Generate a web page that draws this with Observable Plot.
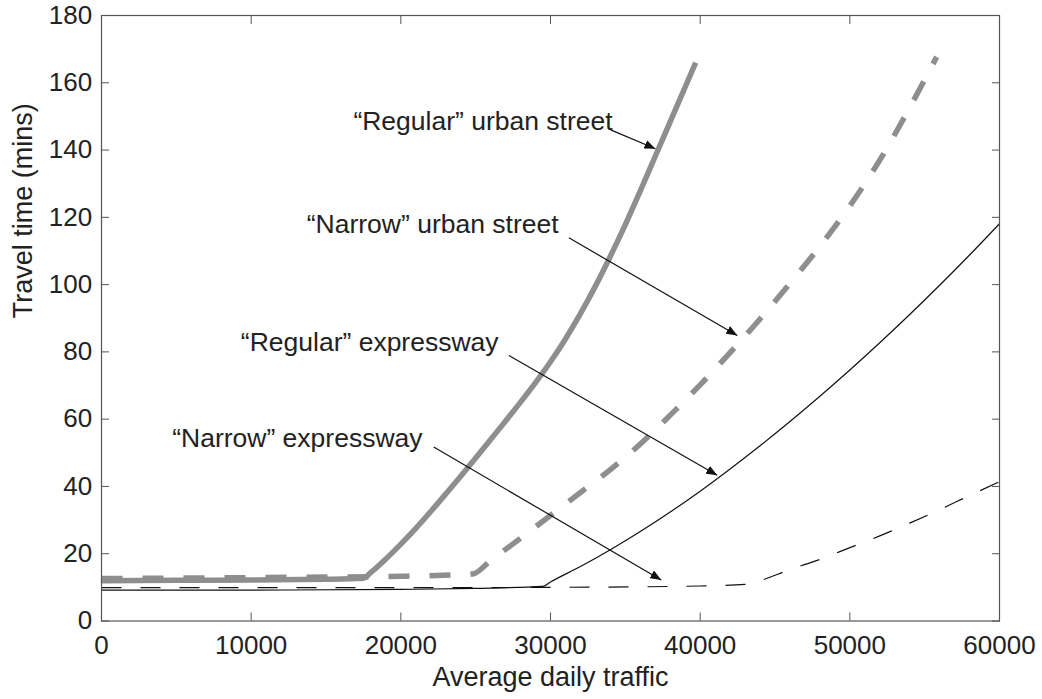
<!DOCTYPE html>
<html>
<head>
<meta charset="utf-8">
<script src="https://cdn.jsdelivr.net/npm/d3@7"></script>
<script src="https://cdn.jsdelivr.net/npm/@observablehq/plot@0.6"></script>
<style>
  html, body { margin: 0; padding: 0; background: #fff; }
  #chart { width: 1042px; height: 699px; }
</style>
</head>
<body>
<div id="chart"></div>
<script>
// ---- Axis ticks ----
const xTicks = [0, 10000, 20000, 30000, 40000, 50000, 60000];
const yTicks = [0, 20, 40, 60, 80, 100, 120, 140, 160, 180];

// ---- Series (x = average daily traffic, y = travel time in mins) ----
const regularUrbanStreet = [
  [0, 12.0], [5000, 12.1], [10000, 12.2], [15000, 12.4], [17500, 12.7],
  [18000, 14.45], [19000, 18.45], [20000, 22.85], [21000, 27.55], [22000, 32.55],
  [23000, 37.75], [24000, 43.05], [25000, 48.45], [26000, 53.95], [27000, 59.45],
  [28000, 65.05], [29000, 70.85], [30000, 77.05], [31000, 83.85], [32000, 91.35],
  [33000, 99.55], [34000, 108.45], [35000, 117.85], [36000, 127.85], [37000, 138.15],
  [38000, 148.45], [39000, 158.75], [39700, 166.0]
];
const narrowUrbanStreet = [
  [0, 12.6], [10000, 12.9], [20000, 13.3], [24800, 14.0], [26000, 18.0],
  [28000, 24.6], [30000, 31.4], [32000, 38.2], [34000, 45.0], [36000, 52.6],
  [38000, 61.2], [40000, 70.2], [42000, 79.8], [44000, 89.8], [46000, 100.4],
  [48000, 111.4], [50000, 123.4], [52000, 137.0], [54000, 152.6], [55800, 167.7]
];
const regularExpressway = [
  [0, 9.2], [10000, 9.2], [20000, 9.4], [25000, 9.7], [29500, 10.3],
  [30000, 11.6], [32000, 16.2], [34000, 21.2], [36000, 26.6], [38000, 32.4],
  [40000, 38.6], [42000, 45.2], [44000, 52.1], [46000, 59.3], [48000, 66.8],
  [50000, 74.6], [52000, 82.7], [54000, 91.1], [56000, 99.8], [58000, 108.8],
  [60000, 118.1]
];
const narrowExpressway = [
  [0, 9.9], [10000, 9.9], [20000, 9.9], [30000, 10.0], [40000, 10.4],
  [43000, 10.9], [44000, 12.0], [46000, 15.3], [48000, 18.3], [50000, 21.8],
  [52000, 25.3], [54000, 29.1], [56000, 33.1], [58000, 37.3], [60000, 41.4]
];

// ---- Annotations (label anchored at its right end / baseline, arrow from start to tip) ----
const labelText = ["\u201CRegular\u201D urban street", "\u201CNarrow\u201D urban street", "\u201CRegular\u201D expressway", "\u201CNarrow\u201D expressway"];
const labelX = [34150, 30540, 26530, 21450];
const labelY = [146.1, 115.2, 80.4, 51.6];
const arrowX1 = [34020, 31230, 27220, 22200];
const arrowY1 = [146.0, 113.9, 78.9, 51.7];
const arrowX2 = [37010, 42480, 41140, 37400];
const arrowY2 = [140.4, 84.9, 43.3, 12.2];

const annotations = labelText.map((t, i) => ({
  text: t, x: labelX[i], y: labelY[i],
  x1: arrowX1[i], y1: arrowY1[i], x2: arrowX2[i], y2: arrowY2[i]
}));

const FONT = "'Liberation Sans', Arial, Helvetica, sans-serif";
const gray = "#8e8e8e";
const axisGray = "#555";
const textColor = "#222";

function filledArrow(color) {
  const m = d3.create("svg:marker")
    .attr("viewBox", "-11 -4.5 11 9")
    .attr("markerWidth", 11)
    .attr("markerHeight", 9)
    .attr("markerUnits", "userSpaceOnUse")
    .attr("orient", "auto")
    .attr("refX", 0)
    .attr("refY", 0)
    .attr("fill", color)
    .attr("stroke", "none");
  m.append("path").attr("d", "M-11,-4.5L0,0L-11,4.5Z");
  return m.node();
}

function build(marker) {
  return Plot.plot({
    width: 1042,
    height: 699,
    marginLeft: 101,
    marginRight: 43,
    marginTop: 15,
    marginBottom: 78.5,
    style: { fontFamily: FONT, background: "#fff", color: textColor },
    x: { domain: [0, 60000] },
    y: { domain: [0, 180] },
    marks: [
      // curves
      Plot.line(regularExpressway, { x: d => d[0], y: d => d[1], stroke: "#111", strokeWidth: 1.2, curve: "monotone-x" }),
      Plot.line(narrowExpressway, { x: d => d[0], y: d => d[1], stroke: "#111", strokeWidth: 1.2, strokeDasharray: "20,19", strokeLinecap: "butt", curve: "monotone-x" }),
      Plot.line(regularUrbanStreet, { x: d => d[0], y: d => d[1], stroke: gray, strokeWidth: 5.5, curve: "monotone-x", strokeLinecap: "butt" }),
      Plot.line(narrowUrbanStreet, { x: d => d[0], y: d => d[1], stroke: gray, strokeWidth: 5.5, strokeDasharray: "21,20", strokeLinecap: "butt", curve: "monotone-x" }),
      // frame and axes (ticks pointing inwards)
      Plot.frame({ stroke: axisGray, strokeWidth: 1.2 }),
      Plot.axisX({ anchor: "bottom", ticks: xTicks, tickFormat: d => String(d), tickSize: -8, tickPadding: 22.5, stroke: axisGray, fill: textColor, fontSize: 26, label: null }),
      Plot.axisX({ anchor: "top", ticks: xTicks, tickFormat: () => "", tickSize: -8, stroke: axisGray, label: null }),
      Plot.axisY({ anchor: "left", ticks: yTicks, tickFormat: d => String(d), tickSize: -8, tickPadding: 17.3, stroke: axisGray, fill: textColor, fontSize: 26, label: null }),
      Plot.axisY({ anchor: "right", ticks: yTicks, tickFormat: () => "", tickSize: -8, stroke: axisGray, label: null }),
      // axis titles
      Plot.text(["Average daily traffic"], { text: d => d, frameAnchor: "bottom", dy: 64.5, lineAnchor: "bottom", fontSize: 27, fill: textColor }),
      Plot.text(["Travel time (mins)"], { text: d => d, frameAnchor: "left", dx: -69.5, rotate: -90, lineAnchor: "bottom", fontSize: 27, fill: textColor }),
      // annotations
      Plot.link(annotations, { x1: "x1", y1: "y1", x2: "x2", y2: "y2", stroke: "#111", strokeWidth: 1.2, markerEnd: marker }),
      Plot.text(annotations, { x: "x", y: "y", text: "text", textAnchor: "end", lineAnchor: "bottom", fontSize: 26.5, fill: textColor })
    ]
  });
}

let chart;
try {
  chart = build(filledArrow);
} catch (e) {
  chart = build("arrow");
}
document.getElementById("chart").appendChild(chart);
</script>
</body>
</html>
